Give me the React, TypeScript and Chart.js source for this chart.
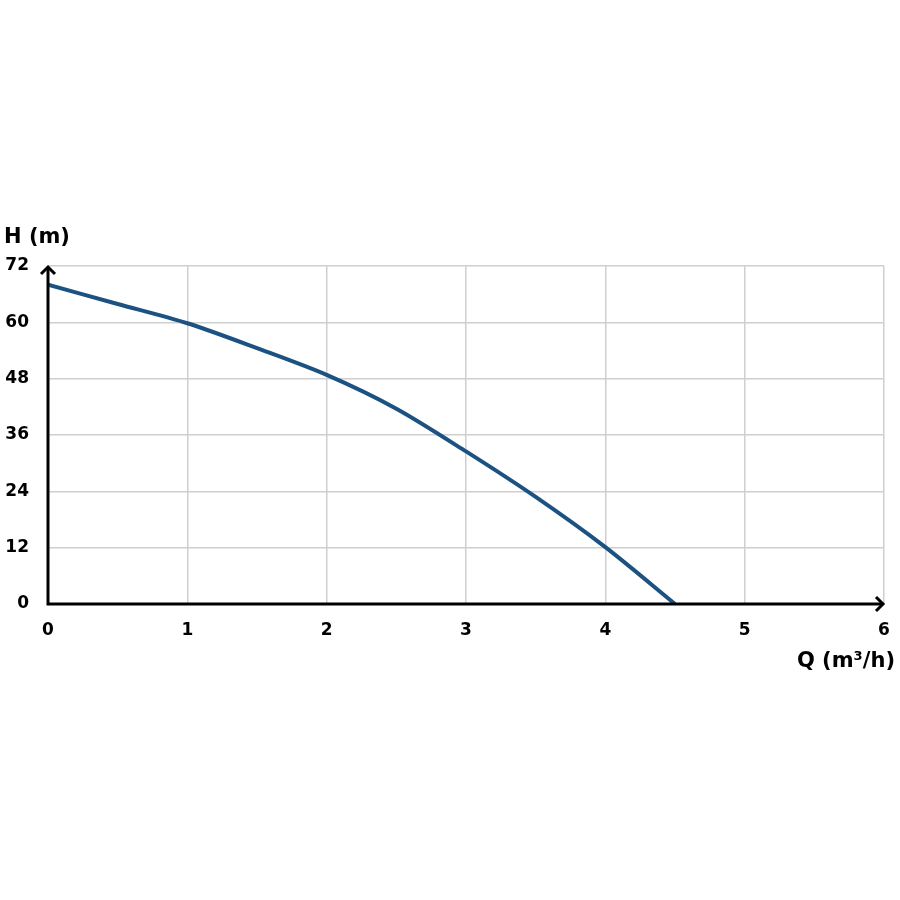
import React, { useEffect, useRef } from "react";
import { Chart, registerables } from "chart.js";

Chart.register(...registerables);

const flowQ: number[] = [0, 0.5, 1, 1.5, 2, 2.5, 3, 3.5, 4, 4.5];
const headH: number[] = [68, 63.9, 59.8, 54.5, 48.8, 41.6, 32.5, 22.8, 12.1, 0];
const xTicks: number[] = [0, 1, 2, 3, 4, 5, 6];
const yTicks: number[] = [0, 12, 24, 36, 48, 60, 72];
const yTitle = "H (m)";
const xTitle = "Q (m³/h)";

const FONT = "'DejaVu Sans', sans-serif";

export default function App() {
  const ref = useRef<HTMLCanvasElement | null>(null);
  useEffect(() => {
    if (!ref.current) return;
    const axesPlugin = {
      id: "axesArrows",
      afterDraw(chart: any) {
        const { ctx, chartArea } = chart;
        const { left, right, top, bottom } = chartArea;
        ctx.save();
        ctx.strokeStyle = "#000";
        ctx.lineWidth = 3;
        ctx.lineCap = "butt";
        ctx.beginPath();
        ctx.moveTo(left, bottom + 1.5);
        ctx.lineTo(left, top + 1);
        ctx.moveTo(left - 1.5, bottom);
        ctx.lineTo(right - 1, bottom);
        ctx.stroke();
        ctx.lineJoin = "miter";
        ctx.beginPath();
        ctx.moveTo(left - 7, top + 8);
        ctx.lineTo(left, top + 1);
        ctx.lineTo(left + 7, top + 8);
        ctx.moveTo(right - 8, bottom - 7);
        ctx.lineTo(right - 1, bottom);
        ctx.lineTo(right - 8, bottom + 7);
        ctx.stroke();
        ctx.fillStyle = "#000";
        ctx.font = `bold 21px ${FONT}`;
        ctx.textBaseline = "middle";
        ctx.textAlign = "left";
        ctx.fillText(yTitle, 4, 238);
        ctx.textAlign = "right";
        ctx.fillText(xTitle, 895, 662);
        ctx.restore();
      },
    };
    const chart = new Chart(ref.current, {
      type: "scatter",
      data: {
        datasets: [
          {
            data: flowQ.map((q, i) => ({ x: q, y: headH[i] })),
            showLine: true,
            borderColor: "#1b5282",
            borderWidth: 4,
            pointRadius: 0,
            tension: 0.3,
            fill: false,
          } as any,
        ],
      },
      options: {
        responsive: false,
        animation: false,
        devicePixelRatio: 1,
        layout: { padding: { top: 266, right: 16, left: 0, bottom: 0 } },
        plugins: { legend: { display: false }, tooltip: { enabled: false } },
        scales: {
          x: {
            type: "linear",
            min: 0,
            max: 6,
            afterBuildTicks: (s: any) => {
              s.ticks = xTicks.map((v) => ({ value: v }));
            },
            afterFit: (s: any) => {
              s.height = 296;
              s.paddingRight = 0;
              s.paddingLeft = 0;
            },
            ticks: {
              color: "#000",
              font: { family: FONT, size: 17, weight: "bold" },
              padding: 16,
            },
            grid: { color: "#cfcfcf", lineWidth: 1.5, drawTicks: false },
            border: { display: false },
          },
          y: {
            type: "linear",
            min: 0,
            max: 72,
            afterBuildTicks: (s: any) => {
              s.ticks = yTicks.map((v) => ({ value: v }));
            },
            afterFit: (s: any) => {
              s.width = 48;
              s.paddingTop = 0;
              s.paddingBottom = 0;
            },
            ticks: {
              color: "#000",
              font: { family: FONT, size: 17, weight: "bold" },
              padding: 19,
            },
            grid: { color: "#cfcfcf", lineWidth: 1.5, drawTicks: false },
            border: { display: false },
          },
        },
      } as any,
      plugins: [axesPlugin],
    });
    return () => chart.destroy();
  }, []);
  return (
    <div style={{ position: "absolute", left: 0, top: 0, width: 900, height: 900, background: "#fff" }}>
      <canvas ref={ref} width={900} height={900} style={{ width: 900, height: 900, display: "block" }} />
    </div>
  );
}
